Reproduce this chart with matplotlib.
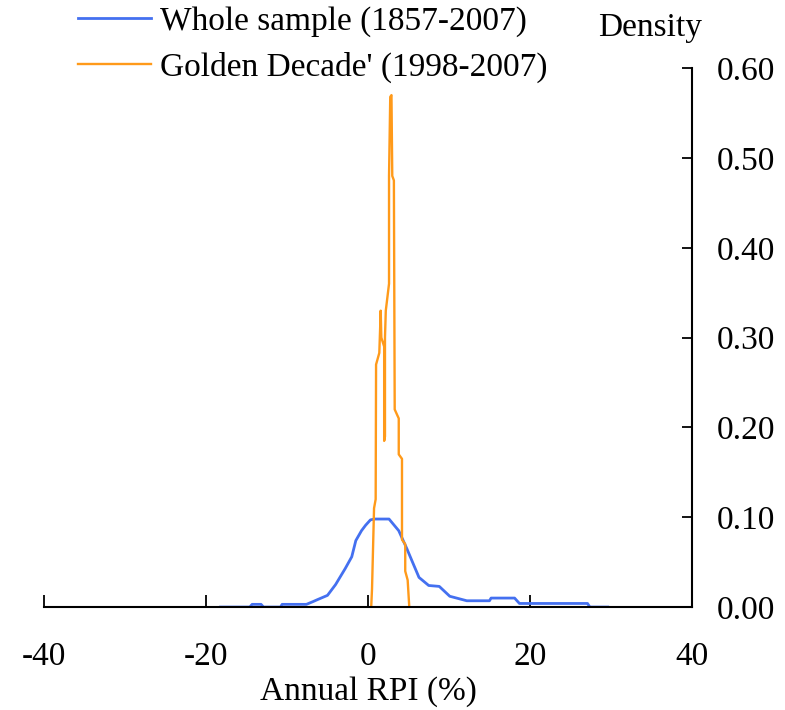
# plot.py
# Density of annual RPI inflation: whole sample vs the 'Golden Decade'

import matplotlib
matplotlib.use("Agg")
import matplotlib.pyplot as plt

plt.rcParams['font.family'] = ['Liberation Serif', 'DejaVu Serif']

# Whole sample (1857-2007) density
whole_x = [-18.2, -14.6, -14.3, -13.2, -12.9, -10.8, -10.6, -7.6, -6.8, -6.3,
           -5.0, -4.0, -2.8, -2.0, -1.5, -0.8, -0.3, 0.3, 0.75, 2.6,
           3.8, 4.8, 5.5, 6.3, 7.5, 8.8, 10.1, 12.2, 15.0, 15.2,
           18.1, 18.7, 27.1, 27.4, 29.6]
whole_y = [0.0, 0.0, 0.003, 0.003, 0.0, 0.0, 0.003, 0.003, 0.006, 0.008,
           0.013, 0.025, 0.043, 0.056, 0.074, 0.085, 0.091, 0.097, 0.098, 0.098,
           0.085, 0.065, 0.05, 0.033, 0.024, 0.023, 0.012, 0.007, 0.007, 0.010,
           0.010, 0.004, 0.004, 0.0, 0.0]

# Golden Decade (1998-2007) density
golden_x = [0.4, 0.5, 0.75, 0.95, 1.0, 1.4, 1.5, 1.57, 1.65, 2.0,
            2.0, 2.1, 2.1, 2.2, 2.6, 2.6, 2.75, 2.9, 3.0, 3.2,
            3.3, 3.8, 3.8, 4.2, 4.2, 4.6, 4.6, 4.9, 5.1]
golden_y = [0.0, 0.02, 0.11, 0.12, 0.27, 0.283, 0.31, 0.33, 0.30, 0.29,
            0.185, 0.19, 0.30, 0.33, 0.36, 0.48, 0.568, 0.57, 0.48, 0.475,
            0.22, 0.21, 0.17, 0.165, 0.075, 0.07, 0.04, 0.03, 0.0]

x_ticks = [-40, -20, 0, 20, 40]
y_ticks = [0.0, 0.1, 0.2, 0.3, 0.4, 0.5, 0.6]

fig = plt.figure(figsize=(7.85, 7.1), dpi=100)
ax = fig.add_axes([0.056, 0.145, 0.8255, 0.759])

ax.plot(whole_x, whole_y, color='#4470F0', lw=2.0,
        label='Whole sample (1857-2007)')
ax.plot(golden_x, golden_y, color='#FF9A1A', lw=1.7,
        label="Golden Decade' (1998-2007)")

ax.set_xlim(-40, 40)
ax.set_ylim(0, 0.6)

# Axes: bottom line and a y axis on the right side
for side in ['top', 'left']:
    ax.spines[side].set_visible(False)
ax.spines['bottom'].set_linewidth(1.5)
ax.spines['right'].set_linewidth(1.5)

ax.set_xticks(x_ticks)
ax.set_xticklabels([str(t) for t in x_ticks])
ax.set_yticks(y_ticks)
ax.set_yticklabels([f"{t:.2f}" for t in y_ticks])
ax.yaxis.tick_right()
ax.tick_params(axis='x', direction='in', length=9, width=1.3, pad=25, labelsize=24)
ax.tick_params(axis='y', direction='in', length=7, width=1.3, pad=18, labelsize=24)

ax.set_xlabel('Annual RPI (%)', fontsize=24, labelpad=3)

fig.text(650 / 785, 1 - 28 / 710, 'Density', fontsize=24, ha='center', va='center')

ax.legend(loc='upper left', bbox_to_anchor=(78 / 785, 1 - 6 / 710),
          bbox_transform=fig.transFigure, frameon=False, fontsize=24,
          handlelength=2.2, handletextpad=0.25, labelspacing=0.45,
          borderpad=0, borderaxespad=0)

plt.savefig('out.png', dpi=100)
